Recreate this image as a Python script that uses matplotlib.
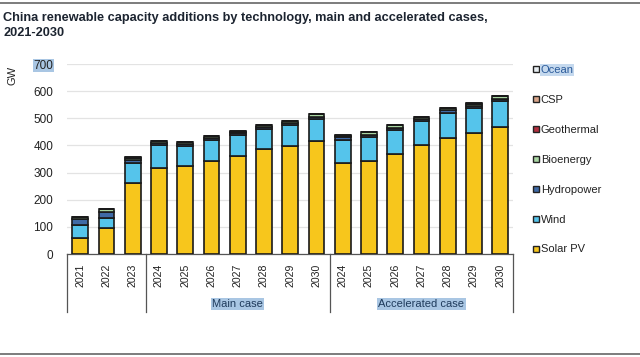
import numpy as np
import matplotlib.pyplot as plt
from matplotlib.lines import Line2D

plt.rcParams['font.family'] = ['Liberation Sans', 'DejaVu Sans']

years = ['2021', '2022', '2023',
         '2024', '2025', '2026', '2027', '2028', '2029', '2030',
         '2024', '2025', '2026', '2027', '2028', '2029', '2030']
groups = ['', 'Main case', 'Accelerated case']
group_sizes = [3, 7, 7]

# GW
solar_pv = [58, 97, 260, 318, 324, 343, 361, 386, 398, 416, 336, 344, 370, 403, 427, 445, 467]
wind = [50, 37, 74, 83, 74, 77, 79, 74, 77, 80, 84, 86, 87, 87, 94, 92, 96]
hydropower = [20, 19, 12, 9, 7, 6, 7, 9, 9, 10, 10, 8, 8, 7, 8, 8, 8]
bioenergy = [9, 12, 9, 5, 7, 8, 4, 6, 6, 8, 6, 12, 10, 8, 9, 9, 10]
geothermal = [0.2] * 17
csp = [0.6, 0.6, 0.6, 0.8, 0.8, 0.8, 0.8, 0.8, 0.8, 0.8, 1, 1, 1, 1, 1, 1, 1]
ocean = [0.1] * 17

series = [('Solar PV', solar_pv, '#f7c61c'),
          ('Wind', wind, '#55c4eb'),
          ('Hydropower', hydropower, '#3f6aa6'),
          ('Bioenergy', bioenergy, '#a9d6a3'),
          ('Geothermal', geothermal, '#b2303f'),
          ('CSP', csp, '#d9a58a'),
          ('Ocean', ocean, '#e8eef2')]

fig = plt.figure(figsize=(6.4, 3.57), dpi=100)
ax = fig.add_axes([0.1047, 0.2885, 0.6973, 0.5322])

x = np.arange(len(years))
bottom = np.zeros(len(years))
handles = []
for name, vals, col in series:
    ax.bar(x, vals, 0.6, bottom=bottom, color=col, edgecolor='#1a1a1a', linewidth=1.2, zorder=3)
    bottom += np.array(vals)
    handles.append(Line2D([], [], marker='s', linestyle='none', markersize=5,
                          markerfacecolor=col, markeredgecolor='#222222', markeredgewidth=1.0,
                          label=name))

ax.set_xlim(-0.5, len(years) - 0.5)
ax.set_ylim(0, 700)
ax.set_yticks(range(0, 701, 100))
ax.yaxis.grid(True, color='#e3e3e3', linewidth=0.9, zorder=0)
ax.tick_params(axis='y', length=0, labelsize=8.5, colors='#222222', pad=10)
ax.set_xticks([])
for s in ['left', 'right', 'top']:
    ax.spines[s].set_visible(False)
ax.spines['bottom'].set_color('#555555')
ax.spines['bottom'].set_linewidth(0.9)

ylabels = ax.get_yticklabels()
ylabels[-1].set_bbox(dict(facecolor='#a9c6e3', edgecolor='none', pad=0.5))

# year labels and group box below the axis
for xi, yr in zip(x, years):
    ax.text(xi, -0.05, yr, transform=ax.get_xaxis_transform(), rotation=90,
            ha='center', va='top', fontsize=7.6, color='#222222')
edges = np.cumsum([0] + group_sizes) - 0.5
for e in edges:
    ax.plot([e, e], [0, -0.305], transform=ax.get_xaxis_transform(), color='#555555',
            linewidth=0.9, clip_on=False)
for g, a, b in zip(groups, edges[:-1], edges[1:]):
    if g:
        ax.text((a + b) / 2, -0.263, g, transform=ax.get_xaxis_transform(),
                ha='center', va='center', fontsize=8, color='#1f3b5c',
                bbox=dict(facecolor='#a9c6e3', edgecolor='none', pad=1))

fig.text(0.019, 0.79, 'GW', rotation=90, ha='center', va='center', fontsize=8, color='#222222')

fig.text(0.005, 0.965, 'China renewable capacity additions by technology, main and accelerated cases,\n2021-2030',
         ha='left', va='top', fontsize=9.2, fontweight='bold', color='#1c2430', linespacing=1.25)

fig.add_artist(Line2D([0, 1], [0.991, 0.991], color='#666666', linewidth=1.2))
fig.add_artist(Line2D([0, 1], [0.009, 0.009], color='#666666', linewidth=1.2))

leg = fig.legend(handles=handles[::-1], loc='upper left', bbox_to_anchor=(0.825, 0.83),
                 frameon=False, fontsize=8, labelspacing=1.79, handlelength=0.6,
                 handletextpad=0.15, borderaxespad=0)
for t in leg.get_texts():
    t.set_color('#222222')
leg.get_texts()[0].set_color('#2a5a9a')
leg.get_texts()[0].set_bbox(dict(facecolor='#c5d9ee', edgecolor='none', pad=0.5))

fig.savefig('out.png', dpi=100)
